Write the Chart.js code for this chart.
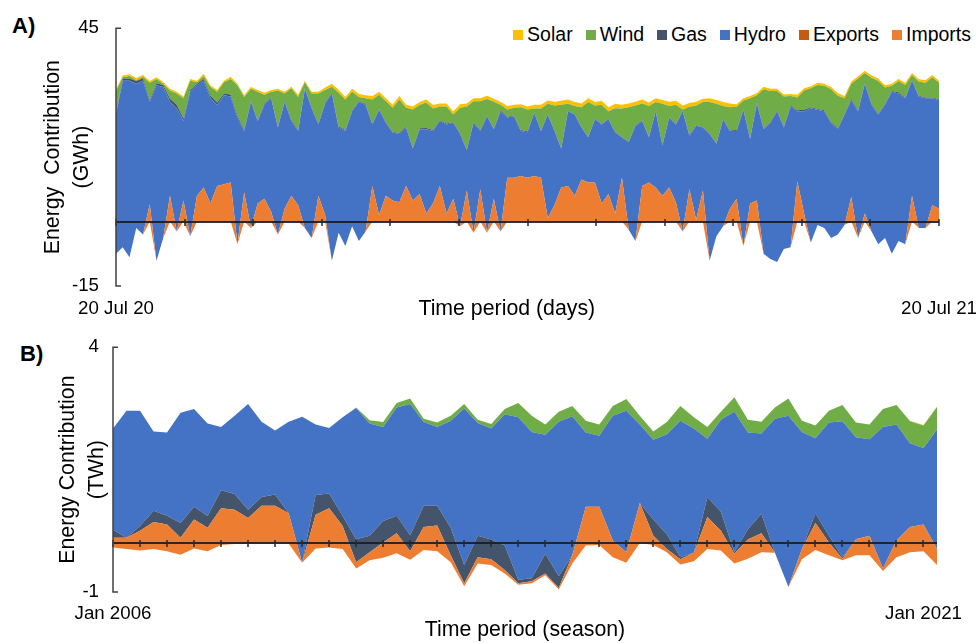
<!DOCTYPE html>
<html>
<head>
<meta charset="utf-8">
<script src="https://cdn.jsdelivr.net/npm/chart.js@4.4.1/dist/chart.umd.min.js"></script>
<style>
  body { margin: 0; background: #fff; width: 979px; height: 643px; overflow: hidden; position: relative;
         font-family: "Liberation Sans", Arial, sans-serif; color: #000; }
  canvas { position: absolute; left: 0; }
  .panel { position: absolute; font-weight: bold; font-size: 22px; }
  #legend { position: absolute; top: 24px; right: 8px; display: flex; gap: 13px; font-size: 19.5px; line-height: 21px; }
  #legend .item { display: flex; align-items: center; }
  #legend .sw { width: 10px; height: 10px; margin-right: 4px; }
</style>
</head>
<body>
<div class="panel" style="left:12px; top:13px;">A)</div>
<div class="panel" style="left:20px; top:341px;">B)</div>
<div id="legend"></div>
<canvas id="chartA" width="979" height="322" style="top:0"></canvas>
<canvas id="chartB" width="979" height="321" style="top:322px"></canvas>
<script>
// ---- Panel A: daily, 20 Jul 2020 - 20 Jul 2021 (GWh), sampled every 3 days ----
const exportsA = [
  -7.5, -6.0, -8.3, -1.5, -3.0, 0, -9.1, -3.8, 0, -2.3, 0, -3.4, 0, 0, 0, 0, 0, 0, -5.3, 0, -1.5, 0, 0, 0, -3.0, 0, 0, 0, -1.5, -3.8, 0,
  0, -9.1, -2.6, -5.7, -1.1, -4.5, -2.3, 0, 0, 0, 0, 0, 0, 0, 0, 0, 0, 0, 0, 0, -1.1, 0, -2.6, 0, -2.6, 0, -2.3, 0, 0, 0, 0,
  0, 0, 0, 0, 0, 0, 0, 0, 0, 0, 0, 0, 0, 0, -1.9, -4.5, 0, 0, 0, 0, 0, 0, -2.3, 0, 0, 0, -9.1, -3.4, -1.1, 0,
  0, -5.7, 0, 0, -7.5, -8.7, -9.4, -6.4, -6.0, 0, 0, -4.9, -0.8, -1.5, -3.8, -3.0, -0.8, 0, -3.8, 0, -2.3, -5.3, -3.8, -7.5, -4.5, -5.3, 0, -1.5, -1.5, 0, 0
];
const importsA = [
  0, 0, 0, 0, 0, 4.0, 0, 0, 6.0, 0, 4.9, 0, 6.0, 7.9, 4.2, 8.3, 8.7, 9.1, 0, 6.8, 0, 4.2, 5.3, 2.3, 0, 3.0, 6.0, 3.8, 0, 0, 6.0,
  1.5, 0, 0, 0, 0, 0, 0, 8.3, 1.5, 6.0, 4.9, 4.5, 8.3, 4.9, 6.4, 1.9, 4.2, 8.3, 1.9, 5.3, 0, 7.2, 0, 7.5, 0, 5.3, 0, 10.2, 10.2, 10.6, 10.2,
  10.6, 10.2, 0.8, 3.8, 7.9, 8.3, 6.0, 9.8, 9.1, 9.1, 4.2, 6.4, 1.9, 10.2, 0, 0, 8.3, 9.1, 7.9, 6.0, 7.9, 4.5, 0, 7.5, 0.4, 7.2, 0, 0, 0, 3.0,
  5.3, 0, 4.2, 4.9, 0, 0, 0, 0, 0, 9.4, 1.9, 0, 0, 0, 0, 0, 0, 5.7, 0, 1.9, 0, 0, 0, 0, 0, 0, 6.0, 0, 0, 3.8, 3.0
];
const hydroA = [
  32.4, 38.8, 41.1, 33.6, 35.8, 23.9, 40.8, 35.1, 21.9, 28.7, 18.5, 33.6, 25.7, 24.9, 24.5, 18.9, 20.7, 20.0, 29.5, 14.3, 29.4, 19.2, 21.9, 26.4, 24.9, 24.9, 17.4, 17.3, 32.4, 30.2, 16.6,
  26.0, 38.9, 24.5, 26.8, 26.8, 32.4, 29.5, 14.3, 24.5, 17.0, 15.9, 15.9, 13.6, 12.1, 15.1, 19.6, 16.9, 15.1, 20.7, 17.7, 21.5, 9.4, 25.6, 13.6, 27.1, 16.2, 28.0, 14.0, 14.3, 10.5, 10.6,
  14.7, 10.9, 24.1, 17.3, 9.1, 17.4, 18.9, 12.1, 10.5, 14.7, 18.4, 17.4, 18.9, 9.4, 20.4, 26.8, 15.1, 10.5, 17.8, 11.7, 16.3, 18.1, 28.0, 12.5, 21.9, 14.7, 29.5, 21.5, 24.9, 18.1,
  15.8, 31.7, 15.0, 22.6, 29.0, 31.7, 35.1, 28.3, 32.8, 16.3, 23.8, 31.3, 26.8, 27.2, 26.8, 24.5, 25.7, 22.6, 29.5, 30.2, 29.5, 30.2, 31.0, 37.7, 34.3, 34.0, 26.8, 30.6, 30.2, 24.9, 25.3
];
const gasA = [
  0.4, 0.5, 0.5, 0.6, 0.5, 0.4, 0.5, 0.5, 0.7, 0.8, 0.6, 0.4, 0.4, 0.4, 0.6, 0.5, 0.4, 0.5, 0.5, 0.3, 0.2, 0.2, 0.3, 0.2, 0.2, 0.2, 0.3, 0.2, 0.2, 0.2, 0.2,
  0.2, 0.2, 0.3, 0.2, 0.2, 0.1, 0.2, 0.2, 0.2, 0.2, 0.1, 0.2, 0.2, 0.2, 0.2, 0.3, 0.2, 0.2, 0.2, 0.1, 0.2, 0.2, 0.2, 0.2, 0.2, 0.1, 0.2, 0.2, 0.2, 0.2, 0.2,
  0.1, 0.1, 0.1, 0.2, 0.1, 0.1, 0.1, 0.1, 0.1, 0.2, 0.1, 0.1, 0.1, 0.1, 0.1, 0.1, 0.2, 0.1, 0.1, 0.1, 0.1, 0.1, 0.1, 0.2, 0.1, 0.1, 0.1, 0.1, 0.1, 0.1,
  0.2, 0.2, 0.2, 0.3, 0.2, 0.2, 0.2, 0.2, 0.2, 0.2, 0.3, 0.2, 0.2, 0.2, 0.2, 0.2, 0.2, 0.3, 0.2, 0.2, 0.2, 0.2, 0.2, 0.2, 0.3, 0.2, 0.2, 0.2, 0.2, 0.2, 0.2
];
const windA = [
  5.1, 0.3, 0.6, 0.2, 0.4, 4.0, 1.0, 0.3, 1.9, 2.6, 4.7, 2.2, 0.3, 0.7, 2.0, 2.5, 2.6, 3.6, 7.0, 7.6, 2.8, 6.6, 2.0, 1.3, 8.4, 1.7, 7.3, 7.7, 1.3, 3.2, 7.0,
  2.9, 1.4, 7.8, 7.1, 4.3, 1.0, 1.3, 5.6, 3.3, 4.8, 5.6, 7.8, 4.4, 8.9, 5.4, 5.9, 5.0, 3.2, 4.0, 1.8, 5.9, 10.0, 4.8, 6.7, 3.8, 6.3, 1.3, 1.7, 1.8, 5.3, 5.1,
  0.9, 5.1, 2.4, 5.7, 10.1, 1.6, 1.9, 4.6, 8.1, 3.0, 4.5, 1.8, 5.5, 6.6, 8.0, 4.6, 3.9, 7.2, 2.0, 9.6, 2.6, 4.5, 0.3, 6.5, 4.6, 5.8, 7.3, 9.2, 3.0, 5.4,
  5.4, 2.0, 9.3, 1.6, 9.1, 7.2, 4.5, 7.0, 2.2, 3.0, 4.5, 4.4, 5.6, 5.7, 7.6, 7.6, 3.6, 3.5, 7.4, 2.3, 6.1, 7.6, 3.8, 1.2, 2.6, 2.9, 1.1, 3.3, 3.4, 4.7, 3.8
];
const solarA = [
  0.4, 0.4, 0.4, 0.5, 0.4, 0.4, 0.4, 0.4, 0.4, 0.4, 0.4, 0.4, 0.4, 0.5, 0.4, 0.4, 0.4, 0.5, 0.4, 0.4, 0.4, 0.4, 0.5, 0.4, 0.4, 0.4, 0.4, 0.5, 0.4, 0.4, 0.4,
  0.6, 0.7, 0.7, 0.6, 0.7, 0.7, 0.7, 0.8, 0.7, 0.7, 0.7, 0.8, 0.7, 0.7, 0.7, 0.7, 0.8, 0.7, 0.7, 0.7, 0.8, 0.7, 0.7, 0.7, 0.8, 0.7, 0.7, 0.8, 0.7, 0.7, 0.7,
  0.9, 0.9, 0.8, 0.9, 0.9, 1.0, 0.9, 0.9, 0.9, 0.8, 0.9, 0.9, 1.0, 0.9, 0.9, 0.9, 0.9, 0.8, 0.9, 0.9, 1.0, 0.9, 0.9, 0.9, 0.9, 0.8, 0.9, 0.9, 0.9, 0.9,
  0.6, 0.5, 0.5, 0.5, 0.6, 0.5, 0.5, 0.5, 0.5, 0.6, 0.5, 0.5, 0.5, 0.5, 0.5, 0.6, 0.5, 0.5, 0.5, 0.5, 0.5, 0.6, 0.5, 0.5, 0.5, 0.5, 0.5, 0.5, 0.6, 0.5, 0.5
];
const yTicksA = [-15, 45];

// ---- Panel B: seasonal, Jan 2006 - Apr 2021 (TWh) ----
const exportsB = [
  -0.09, -0.12, -0.15, -0.12, -0.17, -0.24, -0.11, -0.17, -0.04, -0.02,
  -0.02, -0.01, -0.01, -0.01, -0.40, -0.11, -0.09, -0.12, -0.52, -0.35,
  -0.30, -0.21, -0.34, -0.14, -0.17, -0.39, -0.88, -0.42, -0.45, -0.62,
  -0.85, -0.82, -0.66, -0.95, -0.42, -0.05, -0.04, -0.29, -0.40, 0,
  -0.04, -0.19, -0.44, -0.37, -0.12, -0.15, -0.42, -0.32, -0.19, -0.20,
  -0.90, -0.33, -0.14, -0.25, -0.35, -0.25, -0.25, -0.57, -0.29, -0.19,
  -0.17, -0.45
];
const importsB = [
  0.20, 0.23, 0.40, 0.55, 0.55, 0.35, 0.59, 0.48, 0.75, 0.70,
  0.53, 0.77, 0.77, 0.62, 0, 0.69, 0.80, 0.47, 0.13, 0.16,
  0.31, 0.41, 0.17, 0.47, 0.53, 0.14, 0.06, 0.13, 0.12, 0.07,
  0.03, 0.04, 0.04, 0.03, 0.17, 0.79, 0.78, 0.34, 0.21, 0.82,
  0.19, 0.07, 0.11, 0.17, 0.65, 0.40, 0.20, 0.39, 0.39, 0,
  0, 0.21, 0.55, 0.26, 0.03, 0.33, 0.40, 0.05, 0.34, 0.52,
  0.55, 0.33
];
const gasB = [
  0.16, 0, 0.10, 0.23, 0.18, 0.30, 0.26, 0.24, 0.37, 0.32,
  0.17, 0.18, 0.23, 0, 0, 0.40, 0.30, 0.20, 0.47, 0.34,
  0.44, 0.36, 0.33, 0.43, 0.40, 0.56, 0.37, 0.44, 0.40, 0.50,
  0.07, 0.06, 0.40, 0.24, 0, 0, 0, 0, 0, 0,
  0.33, 0.30, 0.04, 0, 0.41, 0.39, 0.03, 0.21, 0.40, 0,
  0, 0, 0.20, 0.14, 0.03, 0, 0, 0, 0, 0,
  0, 0
];
const hydroB = [
  2.07, 2.59, 2.35, 1.62, 1.70, 2.25, 2.00, 1.89, 1.29, 1.60,
  2.16, 1.54, 1.31, 1.87, 2.98, 1.44, 1.34, 2.02, 2.68, 2.29,
  1.92, 2.21, 2.68, 1.71, 1.61, 2.19, 3.20, 2.30, 2.27, 2.68,
  3.32, 2.99, 2.43, 3.16, 2.84, 1.52, 1.45, 2.55, 2.89, 1.60,
  1.63, 2.04, 2.79, 2.54, 1.19, 1.88, 2.87, 1.98, 1.64, 2.74,
  3.50, 2.39, 1.53, 2.31, 2.78, 2.08, 1.97, 2.89, 2.37, 1.71,
  1.56, 2.44
];
const windB = [
  0, 0, 0, 0, 0, 0, 0, 0, 0, 0,
  0, 0, 0, 0, 0, 0, 0, 0, 0.01, 0.07,
  0.10, 0.09, 0.11, 0.07, 0.09, 0.10, 0.09, 0.07, 0.09, 0.11,
  0.29, 0.33, 0.21, 0.20, 0.21, 0.24, 0.23, 0.20, 0.24, 0.18,
  0.17, 0.25, 0.30, 0.23, 0.24, 0.16, 0.30, 0.26, 0.24, 0.23,
  0.35, 0.23, 0.26, 0.24, 0.33, 0.30, 0.30, 0.37, 0.40, 0.45,
  0.46, 0.46
];
const solarB = [
  0, 0, 0, 0, 0, 0, 0, 0, 0, 0,
  0, 0, 0, 0, 0, 0, 0, 0, 0, 0,
  0, 0, 0, 0, 0, 0, 0, 0, 0, 0,
  0, 0, 0, 0, 0, 0, 0, 0, 0, 0,
  0, 0, 0, 0, 0, 0, 0, 0, 0, 0,
  0, 0, 0, 0, 0, 0, 0, 0, 0, 0.01,
  0.01, 0.01
];
const yTicksB = [-1, 4];

// categories
const MONTHS = ['Jan', 'Feb', 'Mar', 'Apr', 'May', 'Jun', 'Jul', 'Aug', 'Sep', 'Oct', 'Nov', 'Dec'];
const daysA = [];
for (let i = 0; i < hydroA.length; i++) {
  const d = new Date(2020, 6, 20);
  d.setDate(d.getDate() + (i === hydroA.length - 1 ? 365 : i * 3));
  daysA.push(d.getDate() + ' ' + MONTHS[d.getMonth()] + ' ' + String(d.getFullYear()).slice(2));
}
const seasonsB = [];
for (let i = 0; i < hydroB.length; i++) {
  seasonsB.push(MONTHS[(i % 4) * 3] + ' ' + (2006 + Math.floor(i / 4)));
}

const COLORS = {
  Solar: '#FFC000', Wind: '#70AD47', Gas: '#44546A',
  Hydro: '#4472C4', Exports: '#C55A11', Imports: '#ED7D31'
};
const FONT = '"Liberation Sans", Arial, sans-serif';
Chart.defaults.font.family = FONT;
Chart.defaults.color = '#000';

// legend (panel A)
const legendEl = document.getElementById('legend');
['Solar', 'Wind', 'Gas', 'Hydro', 'Exports', 'Imports'].forEach(name => {
  const it = document.createElement('div');
  it.className = 'item';
  it.innerHTML = '<span class="sw" style="background:' + COLORS[name] + '"></span><span>' + name + '</span>';
  legendEl.appendChild(it);
});

function area(label, data, fill) {
  return {
    label, data, fill,
    backgroundColor: COLORS[label], borderColor: COLORS[label],
    borderWidth: 0, pointRadius: 0, pointHoverRadius: 0, tension: 0
  };
}

// zero line with tick marks + left axis line
const axisLines = {
  id: 'axisLines',
  afterDatasetsDraw(chart, args, opts) {
    const { ctx, chartArea: a, scales: { x, y } } = chart;
    const y0 = Math.round(y.getPixelForValue(0));
    ctx.save();
    ctx.strokeStyle = 'rgba(25,28,38,0.9)';
    ctx.lineWidth = 2;
    ctx.beginPath();
    ctx.moveTo(a.left, y0);
    ctx.lineTo(a.right, y0);
    ctx.stroke();
    ctx.strokeStyle = 'rgba(40,40,40,0.75)';
    ctx.lineWidth = 2;
    ctx.beginPath();
    opts.ticks.forEach(v => {
      const px = Math.round(x.getPixelForValue(v));
      ctx.moveTo(px, y0 - 3);
      ctx.lineTo(px, y0 + 4);
    });
    ctx.stroke();
    ctx.strokeStyle = '#404040';
    ctx.lineWidth = 1.5;
    ctx.beginPath();
    ctx.moveTo(a.left + 5, a.top);
    ctx.lineTo(a.left, a.top);
    ctx.lineTo(a.left, a.bottom);
    ctx.lineTo(a.left + 5, a.bottom);
    ctx.stroke();
    ctx.restore();
  }
};

function makeOptions(cfg) {
  return {
    responsive: false,
    animation: false,
    events: [],
    layout: { padding: { left: 0, top: cfg.top, right: cfg.right, bottom: 0 } },
    plugins: {
      legend: { display: false },
      tooltip: { enabled: false },
      axisLines: { ticks: cfg.zeroTicks }
    },
    scales: {
      x: {
        type: 'category',
        grid: { display: false, drawTicks: false },
        border: { display: false },
        ticks: {
          autoSkip: false, maxRotation: 0, minRotation: 0, padding: cfg.xPad,
          font: { size: 18.7 },
          callback(v, i) { return (i === 0 || i === cfg.lastLabel) ? this.getLabelForValue(v) : ''; }
        },
        title: { display: true, text: cfg.xTitle, font: { size: 21.3 }, padding: { top: 0, bottom: 0 } },
        afterFit(s) { s.height = cfg.xHeight; s.paddingLeft = 0; s.paddingRight = 0; }
      },
      y: {
        stacked: 'single',
        min: cfg.yTicks[0], max: cfg.yTicks[1],
        grid: { display: false, drawTicks: false },
        border: { display: false },
        afterBuildTicks(s) { s.ticks = cfg.yTicks.map(v => ({ value: v })); },
        ticks: { padding: cfg.yPad, font: { size: 18.7 } },
        title: {
          display: true, text: cfg.yTitle,
          font: { size: 21.3, lineHeight: 1.36 },
          padding: { top: cfg.yTitlePad, bottom: 0 }
        },
        afterFit(s) { s.width = cfg.yWidth; }
      }
    }
  };
}

const zeroTicksA = [];
for (let k = 0; k <= 12; k++) zeroTicksA.push(k * (hydroA.length - 1) / 12);
const zeroTicksB = [];
for (let k = 0; k <= 60; k += 2) zeroTicksB.push(k);

new Chart(document.getElementById('chartA'), {
  type: 'line',
  data: {
    labels: daysA,
    datasets: [
      area('Exports', exportsA, false),
      area('Imports', importsA, '-1'),
      area('Hydro', hydroA, '-1'),
      area('Gas', gasA, '-1'),
      area('Wind', windA, '-1'),
      area('Solar', solarA, '-1')
    ]
  },
  options: makeOptions({
    top: 21, right: 40, xPad: 12, xHeight: 36, lastLabel: hydroA.length - 1,
    xTitle: 'Time period (days)\u00A0\u00A0\u00A0\u00A0\u00A0\u00A0\u00A0', yTicks: yTicksA, yPad: 17,
    yTitle: ['Energy  Contribution', '(GWh)'], yTitlePad: 38.5, yWidth: 116,
    zeroTicks: zeroTicksA
  }),
  plugins: [axisLines]
});

new Chart(document.getElementById('chartB'), {
  type: 'line',
  data: {
    labels: seasonsB,
    datasets: [
      area('Exports', exportsB, false),
      area('Imports', importsB, '-1'),
      area('Gas', gasB, '-1'),
      area('Hydro', hydroB, '-1'),
      area('Wind', windB, '-1'),
      area('Solar', solarB, '-1')
    ]
  },
  options: makeOptions({
    top: 19, right: 42, xPad: 11, xHeight: 51, lastLabel: 60,
    xTitle: 'Time period (season)', yTicks: yTicksB, yPad: 14,
    yTitle: ['Energy Contribution', '(TWh)'], yTitlePad: 53.5, yWidth: 113,
    zeroTicks: zeroTicksB
  }),
  plugins: [axisLines]
});
</script>
</body>
</html>
